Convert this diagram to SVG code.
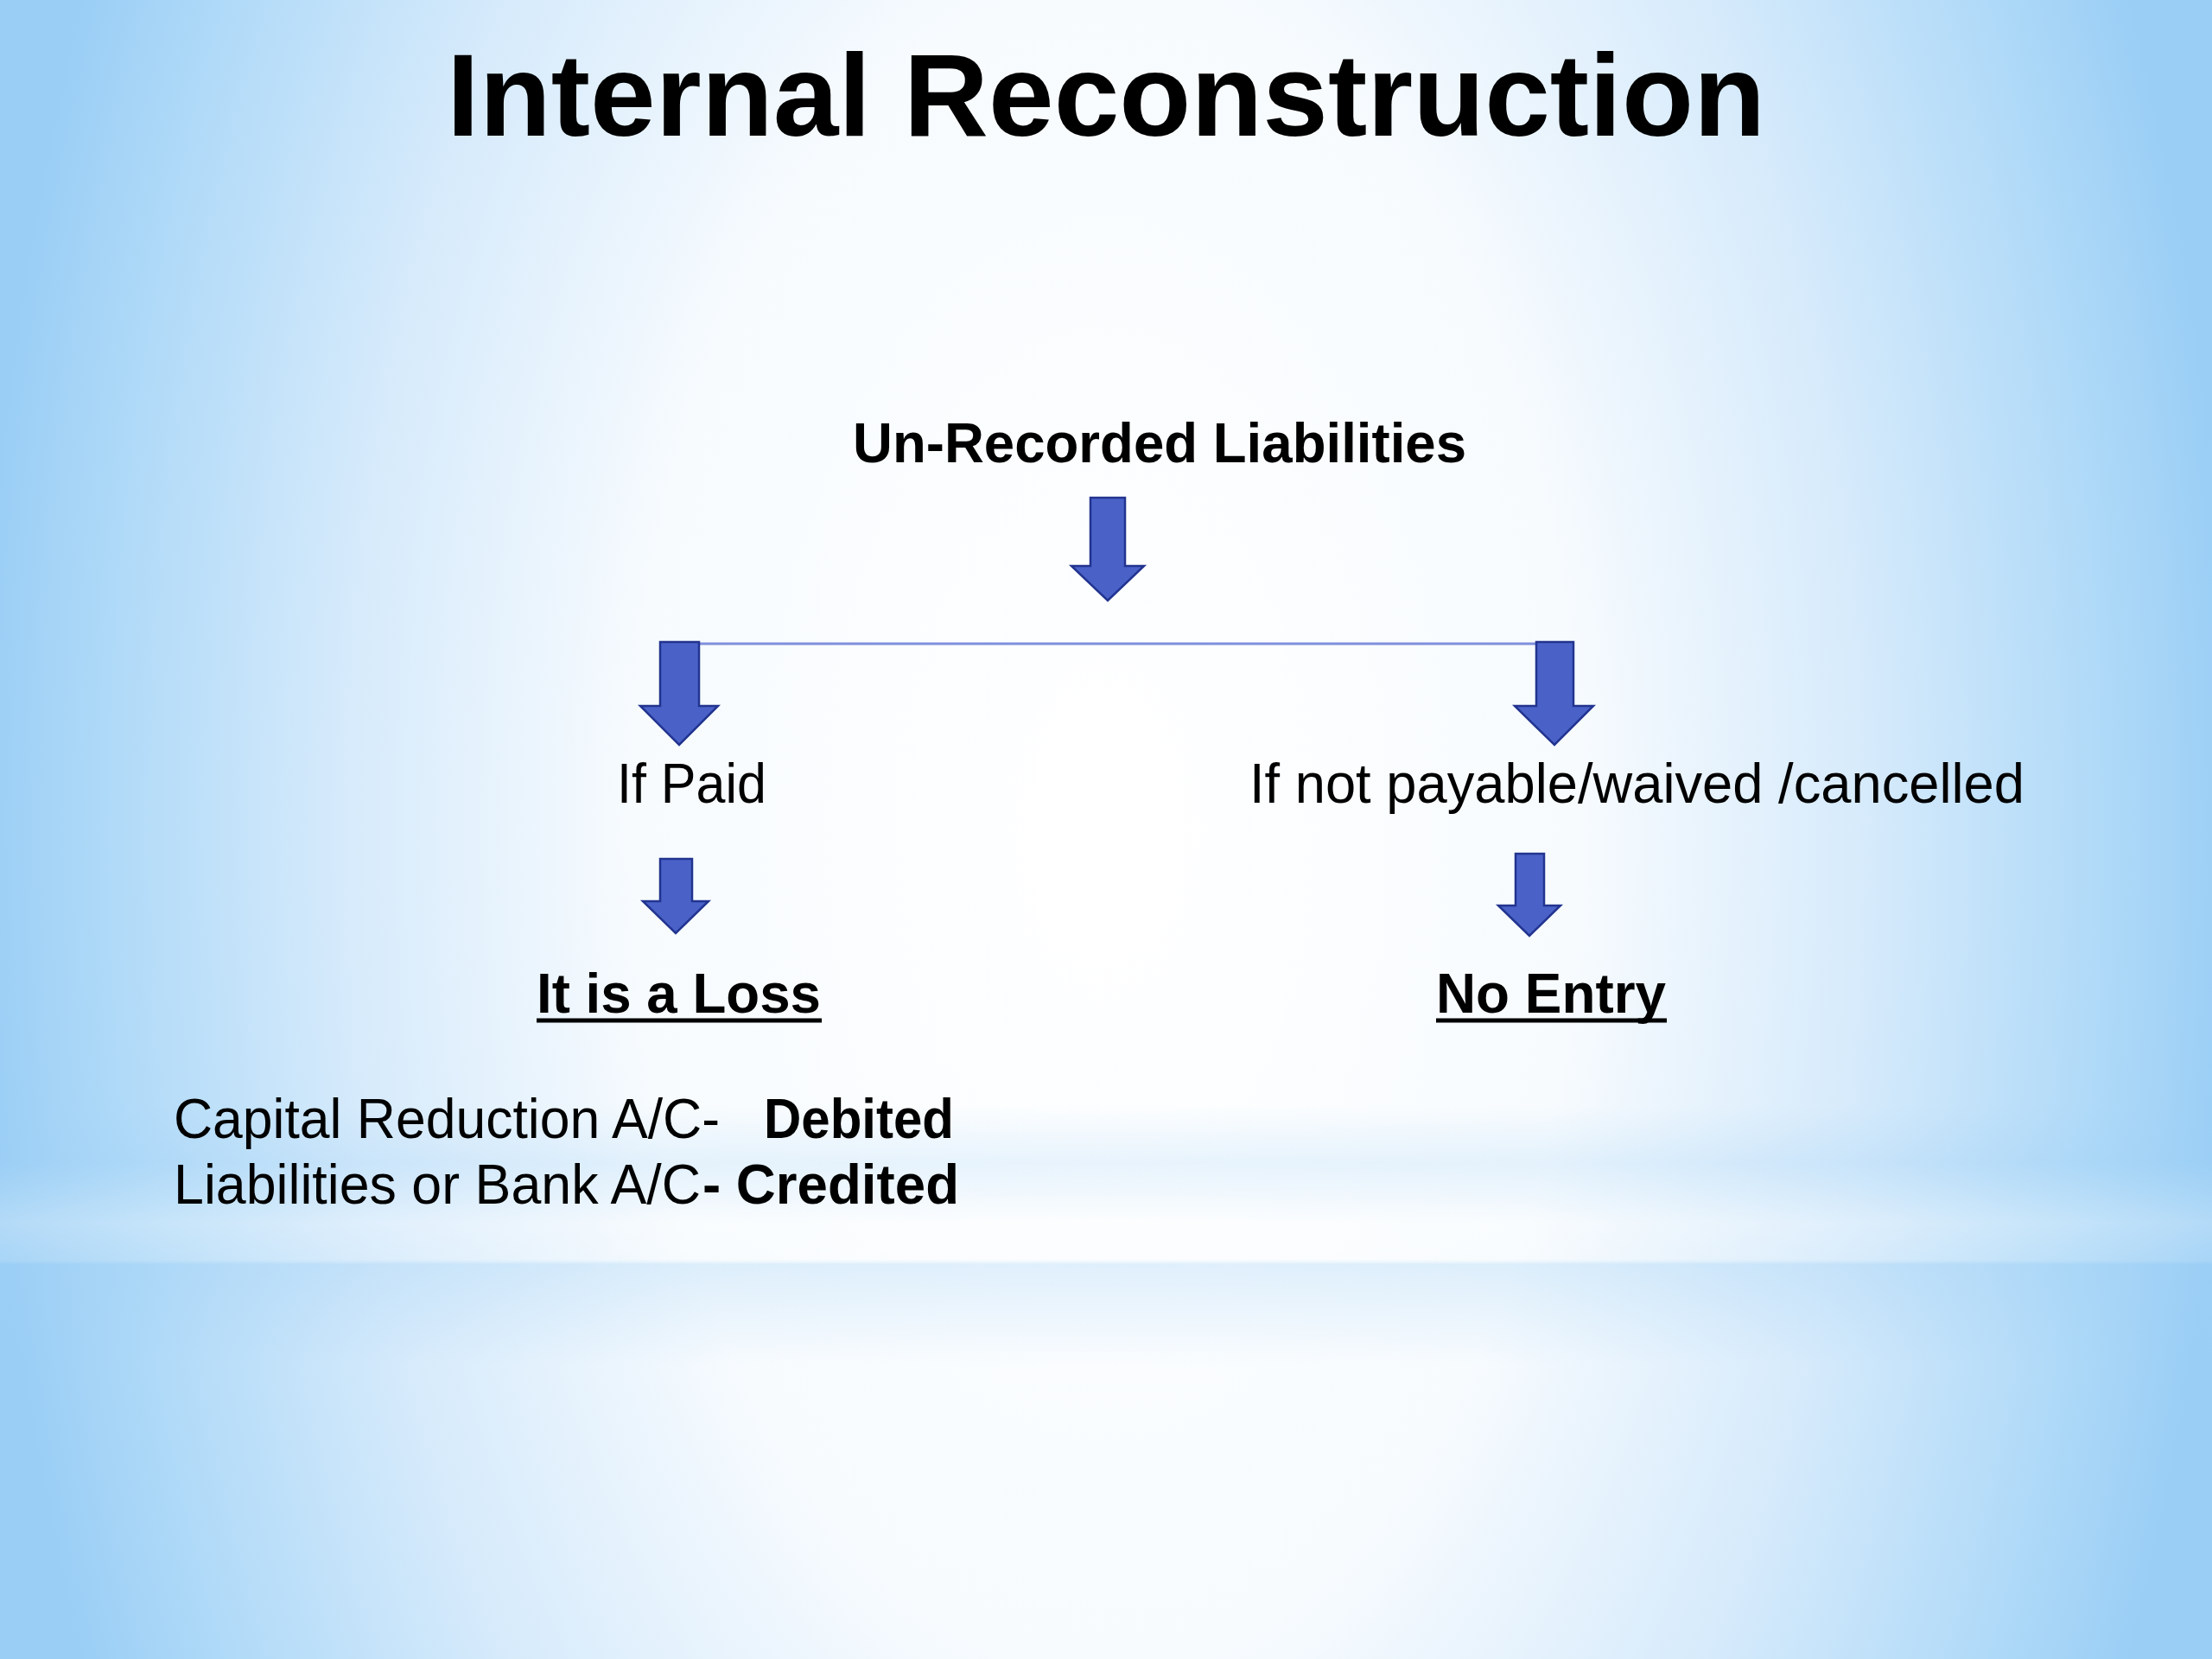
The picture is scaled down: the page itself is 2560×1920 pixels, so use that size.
<svg xmlns="http://www.w3.org/2000/svg" width="2560" height="1920" viewBox="0 0 2560 1920">
  <defs>
    <radialGradient id="bg" gradientUnits="userSpaceOnUse" cx="1280" cy="960" r="1450" gradientTransform="translate(1280 960) scale(0.9 1.6) translate(-1280 -960)">
      <stop offset="0" stop-color="#ffffff"/>
      <stop offset="0.42" stop-color="#f7fbfe"/>
      <stop offset="0.68" stop-color="#d5eafb"/>
      <stop offset="0.88" stop-color="#b0daf8"/>
      <stop offset="1" stop-color="#9acef5"/>
    </radialGradient>
    <linearGradient id="band" x1="0" y1="1280" x2="0" y2="1580" gradientUnits="userSpaceOnUse">
      <stop offset="0" stop-color="#9fd0f5" stop-opacity="0"/>
      <stop offset="0.22" stop-color="#9fd0f5" stop-opacity="0.22"/>
      <stop offset="0.45" stop-color="#ffffff" stop-opacity="0.25"/>
      <stop offset="0.59" stop-color="#ffffff" stop-opacity="0.15"/>
      <stop offset="0.61" stop-color="#9fd0f5" stop-opacity="0.3"/>
      <stop offset="1" stop-color="#9fd0f5" stop-opacity="0"/>
    </linearGradient>
    <style>
      .title { font-family: "Liberation Sans", Arial, sans-serif; font-weight: 700; font-size: 136px; fill: #000; }
      .t { font-family: "Liberation Sans", Arial, sans-serif; font-size: 64px; fill: #000; }
      .b { font-weight: 700; }
      .arrow { fill: #4a62c8; stroke: #22348f; stroke-width: 2.5; stroke-linejoin: miter; }
      .ul { stroke: #000; stroke-width: 5; }
    </style>
  </defs>

  <rect x="0" y="0" width="2560" height="1920" fill="url(#bg)"/>
  <rect x="0" y="1280" width="2560" height="300" fill="url(#band)"/>

  <g id="title">
    <text class="title" x="517" y="157" textLength="1526" lengthAdjust="spacingAndGlyphs">Internal Reconstruction</text>
  </g>

  <g id="connectors">
    <line x1="786" y1="745" x2="1799" y2="745" stroke="#7f8fdc" stroke-width="3"/>
    <polygon class="arrow" points="1262,576 1302,576 1302,655 1324,655 1282,695 1240,655 1262,655"/>
    <polygon class="arrow" points="764,743 809,743 809,817 831,817 786,862 741,817 764,817"/>
    <polygon class="arrow" points="1778,743 1821,743 1821,817 1844,817 1799,862 1753,817 1778,817"/>
    <polygon class="arrow" points="764,994 801,994 801,1043 820,1043 782,1080 744,1043 764,1043"/>
    <polygon class="arrow" points="1754,988 1787,988 1787,1048 1806,1048 1770,1083 1734,1048 1754,1048"/>
  </g>

  <g id="node-root">
    <text class="t b" x="987" y="535" textLength="710" lengthAdjust="spacingAndGlyphs">Un-Recorded Liabilities</text>
  </g>

  <g id="node-paid">
    <text class="t" x="714" y="929" textLength="173" lengthAdjust="spacingAndGlyphs">If Paid</text>
  </g>

  <g id="node-notpayable">
    <text class="t" x="1446" y="929" textLength="897" lengthAdjust="spacingAndGlyphs">If not payable/waived /cancelled</text>
  </g>

  <g id="node-loss">
    <text class="t b" x="621" y="1172" textLength="329" lengthAdjust="spacingAndGlyphs">It is a Loss</text>
    <line class="ul" x1="621" y1="1181" x2="951" y2="1181"/>
  </g>

  <g id="node-noentry">
    <text class="t b" x="1662" y="1172" textLength="266" lengthAdjust="spacingAndGlyphs">No Entry</text>
    <line class="ul" x1="1662" y1="1181" x2="1929" y2="1181"/>
  </g>

  <g id="node-entry">
    <text class="t" x="201" y="1317" textLength="632" lengthAdjust="spacingAndGlyphs">Capital Reduction A/C-</text>
    <text class="t b" x="884" y="1317" textLength="220" lengthAdjust="spacingAndGlyphs">Debited</text>
    <text class="t" x="201" y="1393" textLength="610" lengthAdjust="spacingAndGlyphs">Liabilities or Bank A/C</text>
    <text class="t b" x="813" y="1393" textLength="297" lengthAdjust="spacingAndGlyphs">- Credited</text>
  </g>
</svg>
